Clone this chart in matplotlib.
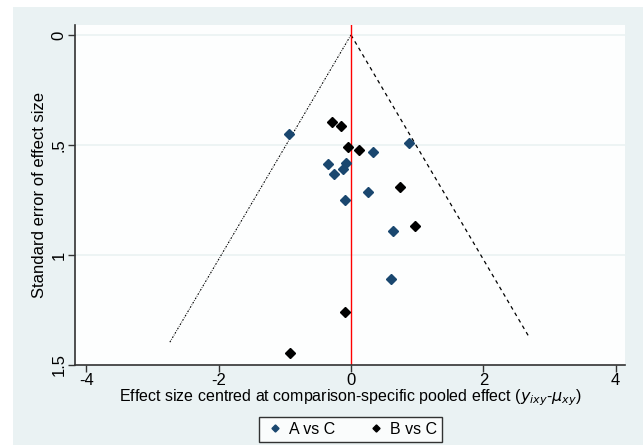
import matplotlib
matplotlib.use("Agg")
import matplotlib.pyplot as plt
from matplotlib.patches import Rectangle

plt.rcParams['font.family'] = ['Liberation Sans', 'DejaVu Sans']

# A vs C comparisons: centred effect size, standard error
a_x = [-0.94, -0.35, -0.25, -0.126, -0.076, -0.09, 0.33, 0.876, 0.257, 0.634, 0.604]
a_se = [0.449, 0.588, 0.631, 0.611, 0.582, 0.752, 0.534, 0.493, 0.715, 0.893, 1.111]
# B vs C comparisons
b_x = [-0.28, -0.146, -0.05, 0.12, 0.735, 0.967, -0.086, -0.917]
b_se = [0.396, 0.412, 0.509, 0.523, 0.693, 0.867, 1.261, 1.445]

se_max_left = 1.40
se_max_right = 1.375
z = 1.96

xticks = [-4, -2, 0, 2, 4]
yticks = [0, 0.5, 1, 1.5]
yticklabels = ['0', '.5', '1', '1.5']

navy = '#1a476f'
panel = '#eaf2f3'

fig = plt.figure(figsize=(6.43, 4.45), dpi=100)
fig.patches.append(Rectangle((13 / 643, 0), 630 / 643, 438 / 445,
                             transform=fig.transFigure, facecolor=panel,
                             edgecolor='none', zorder=-10))

ax = fig.add_axes([75 / 643, 1 - 365 / 445, 550 / 643, 340 / 445])
ax.set_facecolor('#fdfefe')

for y in yticks[:-1]:
    ax.axhline(y, color=panel, lw=1.2, zorder=1)

ax.plot([0, -z * se_max_left], [0, se_max_left], color='black', lw=0.8,
        dashes=(1.5, 1.2, 0.6, 1.2), zorder=2)
ax.plot([0, z * se_max_right], [0, se_max_right], color='black', lw=0.9,
        dashes=(3, 3), zorder=2)
ax.axvline(0, color='red', lw=1.0, zorder=2)

ax.plot(a_x, a_se, 'D', color=navy, markersize=4.8, ls='none', label='A vs C', zorder=3)
ax.plot(b_x, b_se, 'D', color='black', markersize=4.8, ls='none', label='B vs C', zorder=3)

ax.set_xlim(-4.17, 4.14)
ax.set_ylim(1.5, -0.045)
ax.set_xticks(xticks)
ax.set_xticklabels([str(t) for t in xticks])
ax.set_yticks(yticks)
ax.set_yticklabels(yticklabels, rotation=90, va='center')

for s in ['top', 'right']:
    ax.spines[s].set_visible(False)
for s in ['left', 'bottom']:
    ax.spines[s].set_color('#333333')
    ax.spines[s].set_linewidth(1.2)
ax.tick_params(axis='both', length=5, width=1, color='#333333',
               labelsize=12, pad=1)

ax.set_xlabel(r'Effect size centred at comparison-specific pooled effect ($y_{ixy}$-$\mu_{xy}$)',
              fontsize=11.5, labelpad=-1)
ax.set_ylabel('Standard error of effect size', fontsize=12, labelpad=3)

leg = fig.legend(loc='center', bbox_to_anchor=(0.545, 0.035), ncol=2,
                 fontsize=11.5, frameon=True, fancybox=False, edgecolor='black',
                 handletextpad=0.2, columnspacing=1.8, borderpad=0.3,
                 handlelength=1.4, markerscale=0.75, borderaxespad=0)
leg.get_frame().set_linewidth(1.0)

fig.savefig('out.png', dpi=100, facecolor='white')
